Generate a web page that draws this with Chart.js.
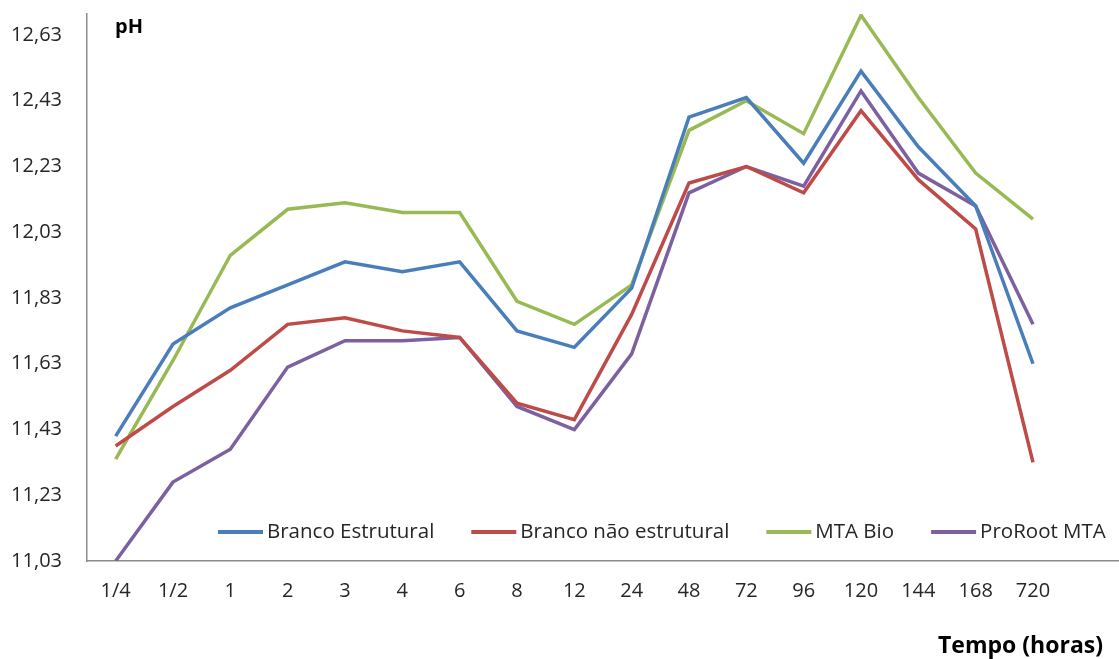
<!DOCTYPE html>
<html lang="pt">
<head>
  <meta charset="UTF-8" />
  <title>pH x Tempo</title>
  <script src="https://cdn.jsdelivr.net/npm/chart.js"></script>
  <style>
    body { margin: 0; background: #fff; }
    #wrap { width: 1119px; height: 659px; position: relative; }
  </style>
</head>
<body>
  <div id="wrap"><canvas id="phChart"></canvas></div>

  <script>
    // categories (hours); last slot is empty, as in the original axis
    const tempos = ["1/4", "1/2", "1", "2", "3", "4", "6", "8", "12", "24", "48", "72", "96", "120", "144", "168", "720", ""];
    const yTicks = [11.03, 11.23, 11.43, 11.63, 11.83, 12.03, 12.23, 12.43, 12.63];

    const brancoEstrutural    = [11.41, 11.69, 11.80, 11.87, 11.94, 11.91, 11.94, 11.73, 11.68, 11.86, 12.38, 12.44, 12.24, 12.52, 12.29, 12.11, 11.63];
    const brancoNaoEstrutural = [11.38, 11.50, 11.61, 11.75, 11.77, 11.73, 11.71, 11.51, 11.46, 11.78, 12.18, 12.23, 12.15, 12.40, 12.19, 12.04, 11.33];
    const mtaBio              = [11.34, 11.64, 11.96, 12.10, 12.12, 12.09, 12.09, 11.82, 11.75, 11.87, 12.34, 12.43, 12.33, 12.69, 12.44, 12.21, 12.07];
    const proRootMta          = [11.03, 11.27, 11.37, 11.62, 11.70, 11.70, 11.71, 11.50, 11.43, 11.66, 12.15, 12.23, 12.17, 12.46, 12.21, 12.11, 11.75];

    const FONT = "'Open Sans', sans-serif";
    const TXT = "#262626";

    const line = (label, data, color) => ({
      label, data,
      borderColor: color, backgroundColor: color,
      borderWidth: 3.5, pointRadius: 0, tension: 0,
      borderJoinStyle: "miter"
    });

    // legend inside the plot + the "pH" and "Tempo (horas)" labels
    const extras = {
      id: "extras",
      afterDraw(chart) {
        const ctx = chart.ctx;
        ctx.save();
        ctx.font = "20.5px " + FONT;
        ctx.textBaseline = "middle";
        let x = 218;
        const y = 532;
        chart.data.datasets.forEach(ds => {
          ctx.strokeStyle = ds.borderColor;
          ctx.lineWidth = 4;
          ctx.beginPath();
          ctx.moveTo(x, y);
          ctx.lineTo(x + 45, y);
          ctx.stroke();
          ctx.fillStyle = TXT;
          ctx.textAlign = "left";
          ctx.fillText(ds.label, x + 49, y);
          x += 49 + ctx.measureText(ds.label).width + 37;
        });
        ctx.font = "bold 20px " + FONT;
        ctx.fillStyle = "#000";
        ctx.fillText("pH", 115, 27);
        ctx.font = "bold 23px " + FONT;
        ctx.textAlign = "right";
        ctx.fillText("Tempo (horas)", 1103, 646);
        ctx.restore();
      }
    };

    new Chart(document.getElementById("phChart"), {
      type: "line",
      data: {
        labels: tempos,
        datasets: [
          line("Branco Estrutural", brancoEstrutural, "#4a7ebb"),
          line("Branco não estrutural", brancoNaoEstrutural, "#be4b48"),
          line("MTA Bio", mtaBio, "#98b954"),
          line("ProRoot MTA", proRootMta, "#7d60a0")
        ]
      },
      options: {
        responsive: true,
        maintainAspectRatio: false,
        animation: false,
        layout: { padding: { top: 14, right: 0, left: 0, bottom: 0 } },
        plugins: { legend: { display: false }, tooltip: { enabled: false } },
        scales: {
          x: {
            offset: true,
            grid: { display: false },
            border: { display: true, color: "#8c8c8c", width: 1.5 },
            ticks: { font: { family: FONT, size: 20 }, color: TXT, padding: 10, maxRotation: 0, autoSkip: false },
            afterFit: s => { s.height = 98; s.paddingLeft = 0; s.paddingRight = 0; }
          },
          y: {
            min: 11.03,
            max: 12.694,
            grid: { display: false },
            border: { display: true, color: "#8c8c8c", width: 1.5 },
            afterBuildTicks: s => { s.ticks = yTicks.map(v => ({ value: v })); },
            ticks: {
              font: { family: FONT, size: 20 }, color: TXT, padding: 17,
              callback: v => v.toFixed(2).replace(".", ",")
            },
            afterFit: s => { s.width = 87; s.paddingTop = 0; s.paddingBottom = 0; }
          }
        }
      },
      plugins: [extras]
    });
  </script>
</body>
</html>
